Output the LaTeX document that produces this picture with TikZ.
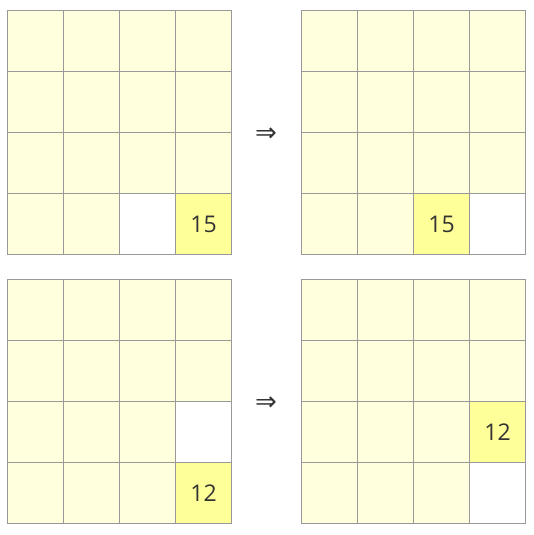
\documentclass[tikz,border=0pt]{standalone}
\usepackage{fontspec}
\setmainfont{Open Sans}
\newfontfamily\symfont{DejaVu Sans}
\definecolor{cellfill}{HTML}{FFFFDD}
\definecolor{hifill}{HTML}{FFFF99}
\definecolor{gridline}{HTML}{999999}
\definecolor{txt}{HTML}{333333}
\begin{document}
\begin{tikzpicture}[x=1pt,y=-1pt,
  cell/.style={draw=gridline,line width=1pt,fill=cellfill,minimum width=56pt,minimum height=61pt,inner sep=0pt,anchor=north west,font=\fontsize{23}{23}\selectfont,text=txt},
  hicell/.style={cell,fill=hifill},
  emptycell/.style={cell,fill=white},
  arrowsym/.style={font=\symfont\fontsize{26}{26}\selectfont,text=txt,inner sep=0pt}]
\useasboundingbox (0,0) rectangle (534,535);
\foreach \gx/\gy/\hr/\hc/\er/\ec/\lab/\nm in {
  7/10/3/3/3/2/15/A,
  301/10/3/2/3/3/15/B,
  7/279/3/3/2/3/12/C,
  301/279/2/3/3/3/12/D}{
  \foreach \r in {0,...,3}{
    \foreach \c in {0,...,3}{
      \pgfmathtruncatemacro{\ishi}{(\r==\hr)&&(\c==\hc)}
      \pgfmathtruncatemacro{\isem}{(\r==\er)&&(\c==\ec)}
      \ifnum\ishi=1
        \node[hicell] (\nm\r\c) at (\gx+\c*56,\gy+\r*61) {\lab};
      \else\ifnum\isem=1
        \node[emptycell] (\nm\r\c) at (\gx+\c*56,\gy+\r*61) {};
      \else
        \node[cell] (\nm\r\c) at (\gx+\c*56,\gy+\r*61) {};
      \fi\fi
    }
  }
}
\node[arrowsym] (arr1) at (266,134.5) {⇒};
\node[arrowsym] (arr2) at (266,403.5) {⇒};
\end{tikzpicture}
\end{document}
